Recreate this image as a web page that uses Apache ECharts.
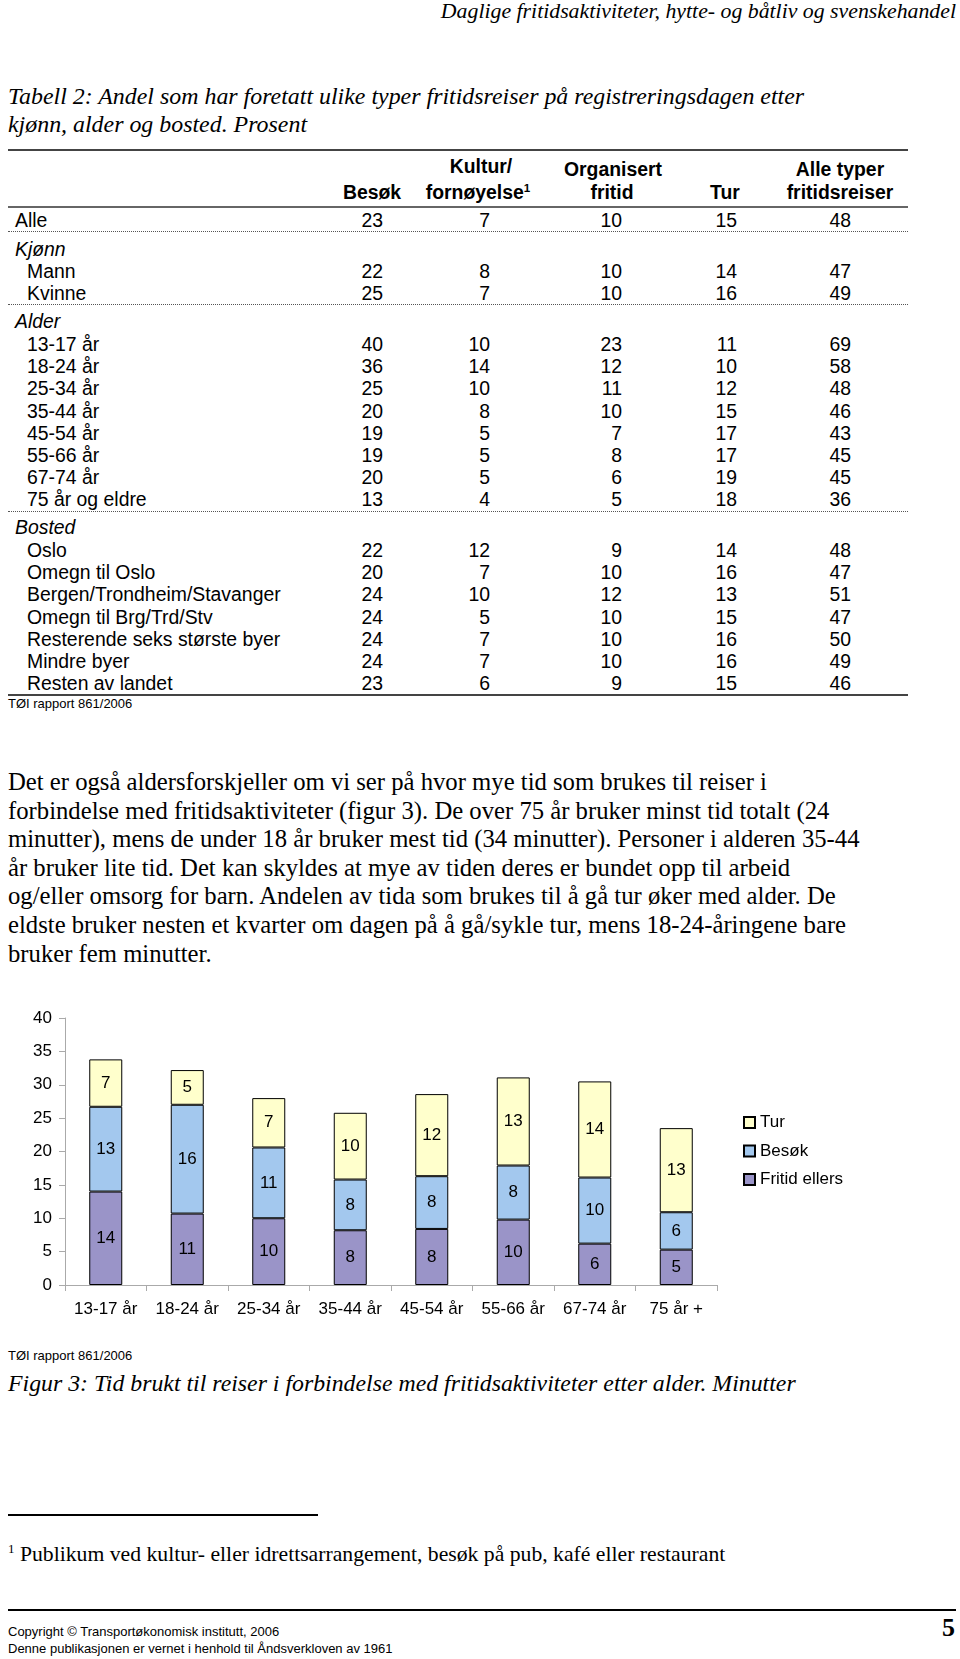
<!DOCTYPE html>
<html>
<head>
<meta charset="utf-8">
<script src="https://cdn.jsdelivr.net/npm/echarts@6/dist/echarts.min.js"></script>
<style>
	body { margin: 0; width: 960px; height: 1659px; position: relative; background: #fff; color: #000; overflow: hidden; }
	.t { position: absolute; white-space: nowrap; height: 30px; line-height: 30px; }
	.hl { position: absolute; height: 0; }
	sup { font-size: 60%; vertical-align: 0; position: relative; top: -0.6em; }
	#chart { position: absolute; left: 0; top: 990px; width: 960px; height: 350px; }
</style>
</head>
<body>
<div id="chart"></div>
<script>
	// tabell 2
	var colRight = [383, 490, 622, 737, 851];
	var alleVals = [23, 7, 10, 15, 48];
	var kjonnLabels = ['Mann', 'Kvinne'];
	var kjonnVals = [[22, 8, 10, 14, 47], [25, 7, 10, 16, 49]];
	var alderLabels = ['13-17 år', '18-24 år', '25-34 år', '35-44 år', '45-54 år', '55-66 år', '67-74 år', '75 år og eldre'];
	var alderVals = [
		[40, 10, 23, 11, 69], [36, 14, 12, 10, 58], [25, 10, 11, 12, 48], [20, 8, 10, 15, 46],
		[19, 5, 7, 17, 43], [19, 5, 8, 17, 45], [20, 5, 6, 19, 45], [13, 4, 5, 18, 36]
	];
	var bostedLabels = ['Oslo', 'Omegn til Oslo', 'Bergen/Trondheim/Stavanger', 'Omegn til Brg/Trd/Stv', 'Resterende seks største byer', 'Mindre byer', 'Resten av landet'];
	var bostedVals = [
		[22, 12, 9, 14, 48], [20, 7, 10, 16, 47], [24, 10, 12, 13, 51], [24, 5, 10, 15, 47],
		[24, 7, 10, 16, 50], [24, 7, 10, 16, 49], [23, 6, 9, 15, 46]
	];

	// figur 3
	var ageGroups = ['13-17 år', '18-24 år', '25-34 år', '35-44 år', '45-54 år', '55-66 år', '67-74 år', '75 år +'];
	var fritidEllers = [14.0, 10.7, 10.0, 8.2, 8.4, 9.8, 6.2, 5.3];
	var besok = [12.7, 16.3, 10.6, 7.6, 7.9, 8.1, 9.9, 5.6];
	var tur = [7.1, 5.2, 7.4, 10.0, 12.3, 13.2, 14.4, 12.6];

	var SANS = "'Liberation Sans', Arial, sans-serif";
	var SERIF = "'Liberation Serif', 'Times New Roman', serif";

	// plasserer en tekst med vertikal midte i cy
	function put(html, x, cy, font, align) {
		var d = document.createElement('div');
		d.className = 't';
		d.style.font = font;
		d.style.lineHeight = '30px';
		d.style.top = (cy - 15) + 'px';
		if (align === 'right') {
			d.style.right = (960 - x) + 'px';
		} else if (align === 'center') {
			d.style.left = (x - 150) + 'px';
			d.style.width = '300px';
			d.style.textAlign = 'center';
		} else {
			d.style.left = x + 'px';
		}
		d.innerHTML = html;
		document.body.appendChild(d);
	}
	function line(x1, x2, y, css) {
		var d = document.createElement('div');
		d.className = 'hl';
		d.style.left = x1 + 'px';
		d.style.width = (x2 - x1) + 'px';
		d.style.top = y + 'px';
		d.style.borderTop = css;
		document.body.appendChild(d);
	}
	var tf = '19.4px ' + SANS;
	function row(label, vals, cy, x) {
		put(label, x, cy, tf);
		vals.forEach(function (v, i) { put(v, colRight[i], cy, tf, 'right'); });
	}

	put('Daglige fritidsaktiviteter, hytte- og båtliv og svenskehandel', 956, 11, 'italic 21.8px ' + SERIF, 'right');
	put('Tabell 2: Andel som har foretatt ulike typer fritidsreiser på registreringsdagen etter', 8, 96, 'italic 23.9px ' + SERIF);
	put('kjønn, alder og bosted. Prosent', 8, 124, 'italic 23.9px ' + SERIF);

	line(8, 908, 149, '2px solid #444');
	var hb = 'bold 19.4px ' + SANS;
	put('Besøk', 372, 192, hb, 'center');
	put('Kultur/', 481, 166, hb, 'center');
	put('fornøyelse<sup>1</sup>', 478, 192, hb, 'center');
	put('Organisert', 613, 169, hb, 'center');
	put('fritid', 612, 192, hb, 'center');
	put('Tur', 725, 192, hb, 'center');
	put('Alle typer', 840, 169, hb, 'center');
	put('fritidsreiser', 840, 192, hb, 'center');
	line(8, 908, 206, '2px solid #666');

	row('Alle', alleVals, 220, 15);
	line(8, 908, 231, '1px dotted #555');
	put('Kjønn', 15, 249, 'italic ' + tf);
	kjonnLabels.forEach(function (l, i) { row(l, kjonnVals[i], 271 + i * 22.2, 27); });
	line(8, 908, 304, '1px dotted #555');
	put('Alder', 15, 321, 'italic ' + tf);
	alderLabels.forEach(function (l, i) { row(l, alderVals[i], 344 + i * 22.2, 27); });
	line(8, 908, 511, '1px dotted #555');
	put('Bosted', 15, 527, 'italic ' + tf);
	bostedLabels.forEach(function (l, i) { row(l, bostedVals[i], 550 + i * 22.2, 27); });
	line(8, 908, 694, '2px solid #444');
	put('TØI rapport 861/2006', 8, 704, '13px ' + SANS);

	var para = [
		'Det er også aldersforskjeller om vi ser på hvor mye tid som brukes til reiser i',
		'forbindelse med fritidsaktiviteter (figur 3). De over 75 år bruker minst tid totalt (24',
		'minutter), mens de under 18 år bruker mest tid (34 minutter). Personer i alderen 35-44',
		'år bruker lite tid. Det kan skyldes at mye av tiden deres er bundet opp til arbeid',
		'og/eller omsorg for barn. Andelen av tida som brukes til å gå tur øker med alder. De',
		'eldste bruker nesten et kvarter om dagen på å gå/sykle tur, mens 18-24-åringene bare',
		'bruker fem minutter.'
	];
	para.forEach(function (p, i) { put(p, 8, 782 + i * 28.6, '24.7px ' + SERIF); });

	put('TØI rapport 861/2006', 8, 1356, '13px ' + SANS);
	put('Figur 3: Tid brukt til reiser i forbindelse med fritidsaktiviteter etter alder. Minutter', 8, 1383, 'italic 23.8px ' + SERIF);

	line(8, 318, 1514, '2px solid #000');
	put('<sup>1</sup> Publikum ved kultur- eller idrettsarrangement, besøk på pub, kafé eller restaurant', 8, 1554, '21.7px ' + SERIF);

	line(8, 956, 1609, '2px solid #000');
	put('Copyright © Transportøkonomisk institutt, 2006', 8, 1632, '13px ' + SANS);
	put('Denne publikasjonen er vernet i henhold til Åndsverkloven av 1961', 8, 1649, '13px ' + SANS);
	put('5', 955, 1628, 'bold 26px ' + SERIF, 'right');

	// figur
	var myChart = echarts.init(document.getElementById('chart'));
	var labelOpt = {
		show: true,
		position: 'inside',
		color: '#000',
		fontSize: 17,
		fontFamily: SANS,
		formatter: function (p) { return Math.round(p.value); }
	};
	myChart.setOption({
		animation: false,
		textStyle: { fontFamily: SANS },
		grid: { left: 65, right: 243, top: 28, bottom: 55 },
		legend: {
			orient: 'vertical',
			left: 738,
			top: 119,
			itemWidth: 11,
			itemHeight: 11,
			itemGap: 11.5,
			icon: 'rect',
			textStyle: { fontSize: 17, color: '#000', fontFamily: SANS },
			data: ['Tur', 'Besøk', 'Fritid ellers']
		},
		xAxis: {
			type: 'category',
			data: ageGroups,
			axisLine: { lineStyle: { color: '#aaa', width: 1 } },
			axisTick: { show: true, length: 6, lineStyle: { color: '#aaa' } },
			axisLabel: { color: '#000', fontSize: 17, margin: 16, interval: 0 }
		},
		yAxis: {
			type: 'value',
			min: 0,
			max: 40,
			interval: 5,
			splitLine: { show: false },
			axisLine: { show: true, lineStyle: { color: '#aaa', width: 1 } },
			axisTick: { show: true, length: 6, lineStyle: { color: '#aaa' } },
			axisLabel: { color: '#000', fontSize: 17, margin: 13 }
		},
		series: [{
			name: 'Fritid ellers',
			type: 'bar',
			stack: 'tid',
			barWidth: 33,
			itemStyle: { color: '#9A94C8', borderColor: '#000', borderWidth: 1 },
			label: labelOpt,
			data: fritidEllers
		}, {
			name: 'Besøk',
			type: 'bar',
			stack: 'tid',
			barWidth: 33,
			itemStyle: { color: '#A3C8EE', borderColor: '#000', borderWidth: 1 },
			label: labelOpt,
			data: besok
		}, {
			name: 'Tur',
			type: 'bar',
			stack: 'tid',
			barWidth: 33,
			itemStyle: { color: '#FFFFCC', borderColor: '#000', borderWidth: 1 },
			label: labelOpt,
			data: tur
		}]
	});
</script>
</body>
</html>
